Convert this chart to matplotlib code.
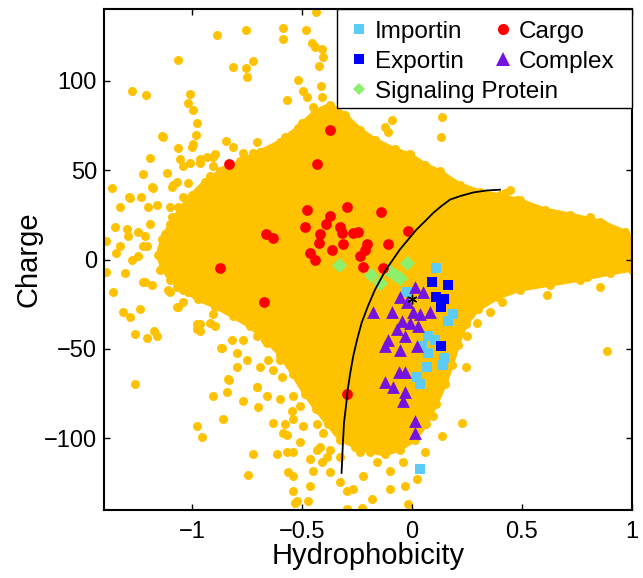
import numpy as np
import matplotlib
matplotlib.use("Agg")
import matplotlib.pyplot as plt
from matplotlib.patches import Rectangle
from matplotlib.lines import Line2D

plt.rcParams['font.family'] = ['Liberation Sans', 'DejaVu Sans']

# dense core of the background protein cloud (outline)
core_x = [-0.373, -0.305, -0.236, -0.168, -0.077, -0.009, 0.059, 0.127, 0.218, 0.309,
          0.400, 0.491, 0.605, 0.718, 0.855, 0.968, 1.000, 1.000, 0.900, 0.764,
          0.627, 0.491, 0.391, 0.300, 0.245, 0.209, 0.182, 0.150, 0.109, 0.064,
          0.014, -0.055, -0.123, -0.191, -0.259, -0.327, -0.382, -0.436, -0.486, -0.541,
          -0.600, -0.668, -0.736, -0.814, -0.895, -0.973, -1.041, -1.100, -1.136, -1.155,
          -1.136, -1.100, -1.055, -1.000, -0.941, -0.873, -0.782, -0.691, -0.600, -0.518,
          -0.441]
core_y = [86.6, 81.0, 72.6, 67.0, 61.5, 58.7, 53.1, 49.2, 41.9, 38.0,
          35.8, 33.0, 27.9, 25.1, 21.2, 15.6, 12.3, -5.6, -7.8, -11.2,
          -14.0, -16.8, -21.2, -27.9, -36.3, -47.5, -58.7, -69.8, -81.0, -92.2,
          -100.6, -106.2, -108.9, -107.3, -104.5, -100.6, -92.2, -83.8, -75.4, -64.2,
          -53.1, -44.7, -37.4, -31.8, -26.3, -22.3, -16.8, -11.2, -4.5, 2.8,
          11.2, 19.6, 27.9, 36.3, 43.6, 49.2, 54.8, 60.3, 65.9, 73.7,
          82.7]

# scattered background proteins outside the dense core
bg_x = [-0.436, -0.886, -0.755, -0.586, -0.586, -0.482, -0.455, -0.441, -0.409, -0.405,
        -0.423, -1.064, -0.814, -0.755, -0.750, -0.723, -0.518, -0.495, -0.477, -0.450,
        -0.414, -0.409, -0.568, -1.273, -1.209, -1.009, -1.018, -0.995, -0.977, -0.982,
        -1.000, -1.132, -1.064, -0.845, -0.705, -0.577, -1.191, -1.223, -1.364, -1.282,
        -1.327, -1.350, -1.391, -1.391, -1.359, -1.245, -1.205, -1.177, -1.086, -1.114,
        -1.041, -0.964, -0.905, -0.814, -0.632, -0.723, 0.136, 0.132, -0.123, -0.091,
        -0.109, -0.245, 0.114, 0.159, 0.445, 0.477, 0.423, 0.868, 0.582, 0.795,
        0.855, 0.614, 0.705, 0.809, 0.945, -1.314, -1.282, -1.236, -1.259, -1.205,
        -1.173, -1.159, -1.259, -1.068, -0.964, -0.905, -0.977, -0.868, -0.795, -0.832,
        -0.905, -0.841, -0.859, -0.977, -0.955, -0.795, -0.768, -0.700, -0.723, -0.745,
        -0.632, -0.586, -0.614, -0.564, -0.541, -0.532, -0.464, -0.450, -0.464, -0.409,
        -0.473, -0.541, -0.432, -0.836, -0.705, -0.545, -0.577, -0.568, -0.541, -0.386,
        -0.373, -0.523, -0.327, -0.295, -0.864, -0.918, -1.041, -1.100, -0.964, -1.041,
        -1.145, 0.886, 0.409, 0.355, 0.295, 0.250, 0.245, 0.227, 0.136, 0.114,
        0.095, 0.059, 0.023, -0.018, -0.032, -0.041, -0.100, -0.100, -0.182, -0.227,
        -0.295, -0.268, -0.223, -0.159, -0.236, -0.327, -0.068, -0.114, -1.136, -0.995,
        -1.232, -1.182, -1.286, -1.159, -1.200, -1.345, -1.214, -1.291, -1.245, -1.191,
        -1.123, -1.100, -1.064, -1.091, -1.055, -1.009, -1.068, -1.018, -0.932, -0.895,
        -0.768, -0.659, -0.677, -0.736, -0.814, -0.918, -0.964, -1.041, -1.091, -1.023,
        -1.132, -1.055, -1.100, -1.068, -0.995, -0.932, -1.214, -1.295, -0.523, -0.500,
        -0.586, -0.632,
        -1.223, -1.182, -1.109, -1.055, -1.018, -0.964, -0.909, -0.886, -1.064, -0.977,
        -0.964, -0.895, -0.818, -0.768, -0.750, -0.705, -0.659, -0.655, -0.691, -0.632,
        -0.600, -0.591, -0.705, -0.659, -0.600, -0.541, -0.509, -0.541, -0.495, -0.432,
        -0.405, -0.418, -0.373, -0.509, -0.568,
        -0.964, -0.905, -0.859, -0.795, -0.723, -0.632, -0.841, -0.782, -0.886, -0.964,
        -1.009, -1.041, -0.964, -1.068, -1.009, -1.086, -1.023, -0.964, -1.223, -1.273,
        -1.305, -1.327]
bg_y = [138.6, 125.7, 128.5, 129.6, 123.5, 128.5, 121.2, 119.0, 117.9, 113.4,
        108.4, 111.7, 107.8, 107.3, 102.2, 111.2, 100.6, 94.4, 91.1, 85.5,
        96.7, 91.1, 89.4, 94.4, 92.2, 92.7, 87.7, 83.8, 76.5, 69.8,
        63.1, 68.7, 62.6, 66.5, 65.9, 68.7, 57.0, 48.0, 40.2, 34.6,
        29.1, 18.4, 10.1, -6.7, -17.9, 2.2, 7.3, 40.2, 41.9, 48.6,
        52.0, 55.9, 57.5, 63.1, 57.5, 59.8, 79.9, 68.7, 74.3, 78.2,
        71.0, 64.3, 43.6, 37.4, 39.1, 33.5, 37.4, 19.6, 22.3, -9.5,
        -15.1, -19.6, 22.3, 24.0, 12.9, -29.1, -32.4, -27.9, -41.9, -43.6,
        -40.2, -43.0, -69.3, -26.8, -36.3, -30.7, -39.1, -49.7, -52.0, -67.6,
        -76.0, -74.3, -89.4, -93.3, -99.4, -60.3, -79.3, -82.7, -108.9, -120.7,
        -91.1, -96.7, -108.9, -119.0, -129.6, -135.8, -126.8, -118.4, -111.7, -113.4,
        -135.2, -107.8, -106.2, -67.0, -71.5, -84.9, -92.2, -97.8, -121.2, -110.1,
        -119.0, -135.2, -124.6, -129.6, -49.2, -35.2, -24.0, -17.9, -20.7, -14.0,
        -5.6, -51.4, -24.0, -29.6, -35.2, -43.0, -59.8, -91.1, -98.9, -73.7,
        -87.2, -107.8, -122.9, -136.9, -126.8, -112.9, -118.4, -128.5, -134.1, -138.6,
        -139.7, -128.5, -121.2, -113.4, -107.8, -110.1, -104.5, -98.9, 69.3, 64.3,
        35.2, 40.8, 35.2, 30.2, 29.6, 3.4, -12.3, 12.9, 15.6, 19.6,
        14.0, 29.1, 29.6, 40.8, 55.9, 54.2, 43.6, 43.0, 57.5, 58.7,
        59.8, 55.9, 47.5, 46.4, 46.4, 46.4, 35.2, 35.2, 24.0, 18.4,
        7.3, 3.9, -5.6, -15.6, -12.9, -12.3, 12.9, 16.8, 71.5, 76.5,
        62.6, 60.3,
        -12.3, -14.0, -16.8, -15.1, -18.4, -21.2, -20.7, -25.1, -26.8, -36.3,
        -40.2, -37.4, -44.7, -44.7, -55.9, -43.0, -46.4, -55.9, -59.8, -61.5,
        -55.9, -65.4, -71.0, -76.5, -78.2, -76.5, -82.1, -89.4, -93.3, -92.2,
        -96.7, -104.5, -106.2, -102.2, -107.8,
        54.2, 52.0, 50.3, 48.6, 52.0, 50.3, 40.8, 39.1, 37.4, 29.6,
        26.3, 20.7, 20.7, 11.2, 9.5, 0.0, -3.9, 0.0, 7.3, 0.0,
        -7.3, 7.3]

importin_x = [0.109, -0.023, 0.186, 0.164, 0.073, 0.105, 0.045, 0.073, 0.145, 0.141,
              0.068, 0.023, 0.036, 0.036]
importin_y = [-4.5, -18.4, -30.7, -34.1, -43.0, -44.7, -48.6, -52.5, -54.8, -59.2,
              -59.8, -65.9, -69.8, -117.3]

exportin_x = [0.091, 0.164, 0.109, 0.145, 0.132, 0.132]
exportin_y = [-12.3, -14.0, -21.2, -21.8, -26.8, -48.6]

signal_x = [-0.332, -0.186, -0.145, -0.109, -0.077, -0.023, -0.055]
signal_y = [-2.8, -8.4, -13.4, -5.6, -8.9, -1.7, -10.6]

cargo_x = [-0.373, -0.832, -0.432, -0.477, -0.373, -0.295, -0.141, -0.486, -0.391, -0.327,
           -0.318, -0.418, -0.245, -0.268, -0.018, -0.423, -0.314, -0.205, -0.109, -0.364,
           -0.464, -0.441, -0.236, -0.214, -0.223, -0.132, -0.664, -0.632, -0.873, -0.673,
           -0.295]
cargo_y = [72.6, 53.6, 53.6, 27.9, 24.6, 29.1, 26.3, 18.4, 20.1, 18.4,
           15.1, 14.0, 15.6, 15.1, 16.2, 9.5, 8.4, 8.9, 8.4, 5.6,
           3.4, 0.0, 1.7, 5.6, -3.9, -5.0, 14.0, 12.3, -4.5, -24.0,
           -74.9]

complex_x = [0.014, 0.050, -0.055, -0.177, -0.091, -0.023, 0.005, 0.036, 0.082, -0.045,
             -0.009, -0.068, 0.027, -0.032, -0.109, -0.123, -0.055, 0.023, -0.032, -0.059,
             -0.123, -0.086, -0.032, -0.041, 0.014, 0.014]
complex_y = [-15.6, -17.9, -20.7, -29.6, -29.1, -23.5, -29.1, -30.7, -29.1, -34.6,
             -35.2, -39.1, -37.4, -43.0, -44.7, -48.6, -50.3, -48.6, -62.6, -63.1,
             -68.2, -71.0, -74.3, -78.8, -90.5, -96.7]

# boundary curve
curve_x = [-0.320, -0.315, -0.309, -0.300, -0.292, -0.280, -0.267, -0.250, -0.229, -0.200,
           -0.168, -0.120, -0.055, 0.021, 0.060, 0.097, 0.135, 0.173, 0.220, 0.279,
           0.340, 0.400]
curve_y = [-119.2, -105.0, -91.2, -82.0, -72.6, -63.0, -54.0, -45.0, -35.4, -26.0,
           -16.8, -6.0, 5.6, 16.8, 21.5, 26.1, 30.0, 33.5, 35.5, 37.5,
           38.6, 39.0]

star_x = [-0.002]
star_y = [-22.3]

c_bg = '#FFC200'
c_imp = '#5CCBF6'
c_exp = '#0000FF'
c_sig = '#8CF06E'
c_car = '#FF0000'
c_com = '#7514E0'

fig = plt.figure(figsize=(6.43, 5.78), dpi=100)
ax = fig.add_axes([0.1617, 0.1176, 0.8212, 0.8668])

# dense cloud as filled outline, with dots on the outline for a grainy edge
ax.fill(core_x, core_y, color=c_bg, lw=3, zorder=1)
ax.scatter(core_x, core_y, s=42, color=c_bg, linewidths=0, zorder=1)
ax.scatter(bg_x, bg_y, s=42, color=c_bg, linewidths=0, zorder=1)

ax.scatter(importin_x, importin_y, s=60, marker='s', color=c_imp, linewidths=0, zorder=2)
ax.scatter(exportin_x, exportin_y, s=60, marker='s', color=c_exp, linewidths=0, zorder=2)
ax.scatter(signal_x, signal_y, s=60, marker='D', color=c_sig, linewidths=0, zorder=2)
ax.scatter(cargo_x, cargo_y, s=60, marker='o', color=c_car, linewidths=0, zorder=2)
ax.scatter(complex_x, complex_y, s=85, marker='^', color=c_com, linewidths=0, zorder=2)
ax.plot(curve_x, curve_y, color='black', lw=1.3, zorder=3)
ax.plot(star_x, star_y, marker=(6, 2, 0), color='black', ms=7, mew=1, ls='none', zorder=4)

ax.set_xlim(-1.4, 1)
ax.set_ylim(-140, 140)
ax.set_xticks([-1, -0.5, 0, 0.5, 1])
ax.set_xticklabels(['\u22121', '\u22120.5', '0', '0.5', '1'])
ax.set_yticks([-100, -50, 0, 50, 100])
ax.set_yticklabels(['\u2212100', '\u221250', '0', '50', '100'])
ax.tick_params(direction='in', top=True, right=True, length=4, width=1,
               labelsize=17)
ax.tick_params(axis='x', pad=8)
ax.tick_params(axis='y', pad=5)
for s in ax.spines.values():
    s.set_linewidth(1.5)

ax.set_xlabel('Hydrophobicity', fontsize=21)
ax.set_ylabel('Charge', fontsize=21)
ax.xaxis.set_label_coords(0.5, -0.063)
ax.yaxis.set_label_coords(-0.117, 0.5)

# legend: MATLAB-style box with the second column overlapping the first
ax.add_patch(Rectangle((0.441, 0.802), 0.559, 0.198, transform=ax.transAxes,
                       facecolor='white', edgecolor='black', lw=1.0, zorder=5,
                       clip_on=False))

def handle(marker, color, ms):
    return Line2D([], [], ls='none', marker=marker, color=color, ms=ms, mew=0)

leg_opts = dict(frameon=False, fontsize=17.5, borderaxespad=0, borderpad=0.4,
                handlelength=1.0, handletextpad=0.15, labelspacing=0.33, loc='upper left')
leg1 = ax.legend([handle('s', c_imp, 7), handle('s', c_exp, 7), handle('D', c_sig, 6.5)],
                 ['Importin', 'Exportin', 'Signaling Protein'],
                 bbox_to_anchor=(0.441, 0.996), **leg_opts)
leg1.set_zorder(6)
ax.add_artist(leg1)
leg2 = ax.legend([handle('o', c_car, 8), handle('^', c_com, 10)],
                 ['Cargo', 'Complex'],
                 bbox_to_anchor=(0.714, 0.996), **leg_opts)
leg2.set_zorder(6)

fig.savefig('out.png', dpi=100)
